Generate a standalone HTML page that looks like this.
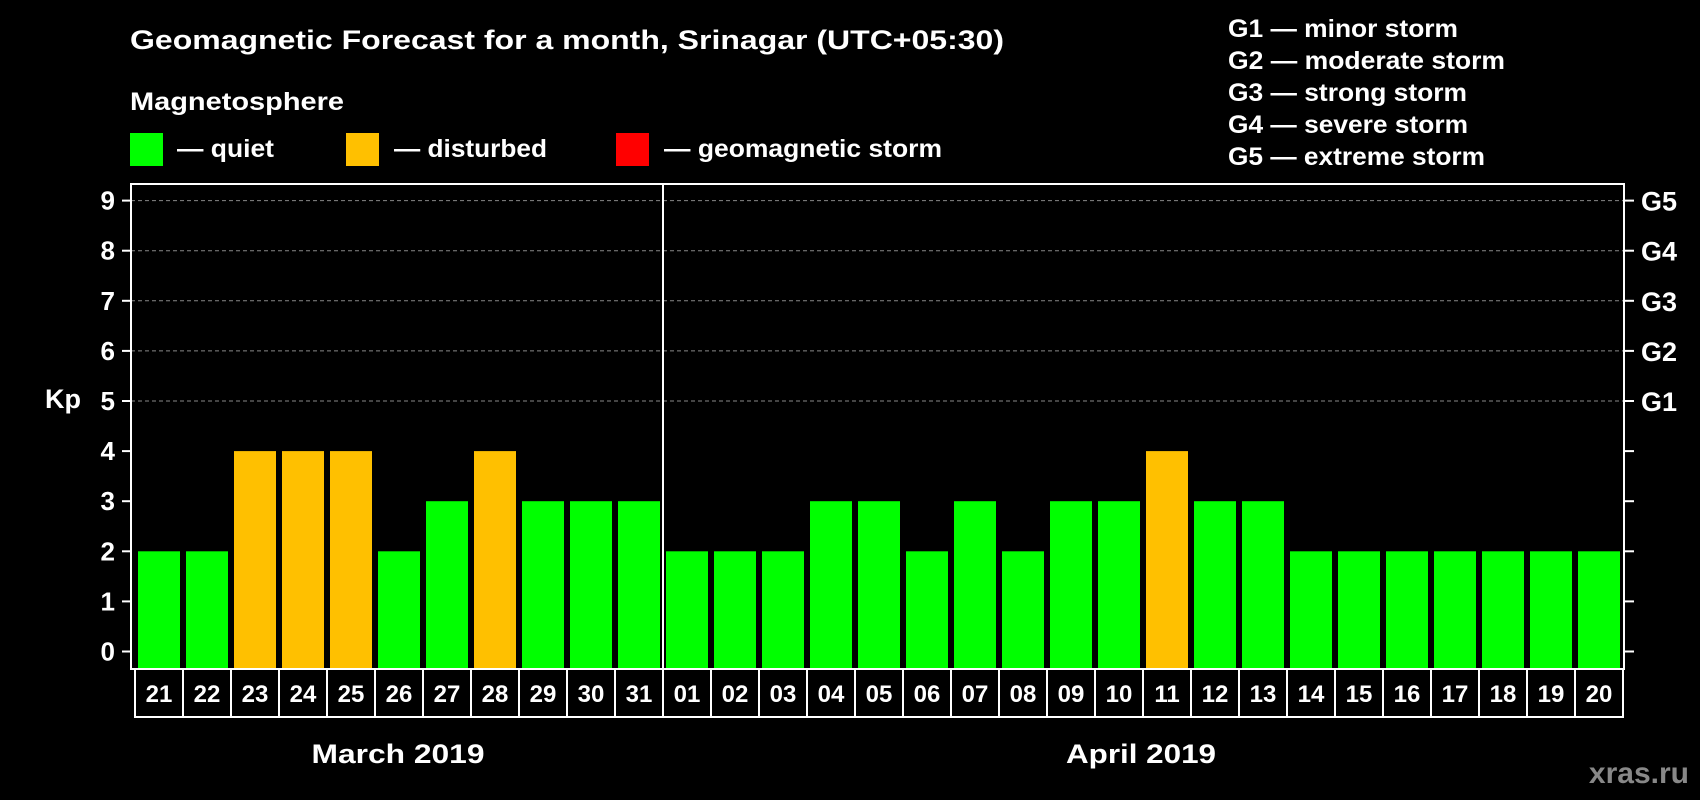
<!DOCTYPE html>
<html><head><meta charset="utf-8"><style>
html,body{margin:0;padding:0;background:#000;}
svg{display:block;font-family:"Liberation Sans",sans-serif;font-weight:bold;}
</style></head><body>
<svg id="chart" width="1700" height="800" viewBox="0 0 1700 800" xmlns="http://www.w3.org/2000/svg">
<rect x="0" y="0" width="1700" height="800" fill="#000"/>
<text x="130" y="49" fill="#fff" font-size="27" textLength="874" lengthAdjust="spacingAndGlyphs">Geomagnetic Forecast for a month, Srinagar (UTC+05:30)</text>
<text x="130" y="110" fill="#fff" font-size="25" textLength="214" lengthAdjust="spacingAndGlyphs">Magnetosphere</text>
<rect x="130" y="133" width="33" height="33" fill="#00ff00"/>
<text x="177" y="157" fill="#fff" font-size="25" textLength="97" lengthAdjust="spacingAndGlyphs">— quiet</text>
<rect x="346" y="133" width="33" height="33" fill="#ffc000"/>
<text x="394" y="157" fill="#fff" font-size="25" textLength="153" lengthAdjust="spacingAndGlyphs">— disturbed</text>
<rect x="616" y="133" width="33" height="33" fill="#ff0000"/>
<text x="664" y="157" fill="#fff" font-size="25" textLength="278" lengthAdjust="spacingAndGlyphs">— geomagnetic storm</text>
<g fill="#fff" font-size="25">
<text x="1228" y="37" textLength="230" lengthAdjust="spacingAndGlyphs">G1 — minor storm</text>
<text x="1228" y="69" textLength="277" lengthAdjust="spacingAndGlyphs">G2 — moderate storm</text>
<text x="1228" y="101" textLength="239" lengthAdjust="spacingAndGlyphs">G3 — strong storm</text>
<text x="1228" y="133" textLength="240" lengthAdjust="spacingAndGlyphs">G4 — severe storm</text>
<text x="1228" y="165" textLength="257" lengthAdjust="spacingAndGlyphs">G5 — extreme storm</text>
</g>
<text x="63" y="408" fill="#fff" font-size="27" text-anchor="middle">Kp</text>
<g id="plot"></g>
<text x="398" y="763" fill="#fff" font-size="27" text-anchor="middle" textLength="173" lengthAdjust="spacingAndGlyphs">March 2019</text>
<text x="1141" y="763" fill="#fff" font-size="27" text-anchor="middle" textLength="150" lengthAdjust="spacingAndGlyphs">April 2019</text>
<text x="1689" y="783" fill="#888" font-size="30" text-anchor="end">xras.ru</text>
</svg>
<script>
const days = ["21","22","23","24","25","26","27","28","29","30","31","01","02","03","04","05","06","07","08","09","10","11","12","13","14","15","16","17","18","19","20"];
const kpValues = [2,2,4,4,4,2,3,4,3,3,3,2,2,2,3,3,2,3,2,3,3,4,3,3,2,2,2,2,2,2,2];
const yTicks = [0,1,2,3,4,5,6,7,8,9];
const stormLabels = ["G1","G2","G3","G4","G5"];
const stormLevels = [5,6,7,8,9];
const monthSplitIndex = 11;

const NS = "http://www.w3.org/2000/svg";
const g = document.getElementById("plot");
const plotL = 131, plotR = 1624, plotT = 184, plotB = 669;
const slotL = 135, slotW = (1623 - 135) / days.length;
const y = v => 651.5 - 50.1 * v;
const x = i => slotL + i * slotW;
function mk(tag, attrs) { const e = document.createElementNS(NS, tag); for (const k in attrs) e.setAttribute(k, attrs[k]); g.appendChild(e); return e; }

stormLevels.forEach(v => {
  const l = mk("line", {x1: plotL, x2: plotR, y1: y(v), y2: y(v), stroke: "#888", "stroke-width": 1, "stroke-dasharray": "4,3"});
  
  
});
kpValues.forEach((v, i) => {
  const col = v >= 5 ? "#ff0000" : (v >= 4 ? "#ffc000" : "#00ff00");
  const r = mk("rect", {x: x(i) + 3, y: y(v), width: slotW - 6, height: plotB - y(v), fill: col});
  
  
});
const frame = mk("rect", {x: plotL, y: plotT, width: plotR - plotL, height: plotB - plotT, fill: "none", stroke: "#fff", "stroke-width": 2});


const div = mk("line", {x1: x(monthSplitIndex), x2: x(monthSplitIndex), y1: plotT, y2: plotB, stroke: "#fff", "stroke-width": 2});


yTicks.forEach(v => {
  const t1 = mk("line", {x1: 122, x2: plotL, y1: y(v), y2: y(v), stroke: "#fff", "stroke-width": 2});
  
  
  const t2 = mk("line", {x1: plotR, x2: 1634, y1: y(v), y2: y(v), stroke: "#fff", "stroke-width": 2});
  
  
  const tx = mk("text", {x: 115, y: y(v) + 9, fill: "#fff", "font-size": 26, "text-anchor": "end"});
  tx.textContent = v;
  
  
});
stormLabels.forEach((s, i) => {
  const tx = mk("text", {x: 1641, y: y(stormLevels[i]) + 10, fill: "#fff", "font-size": 27});
  tx.textContent = s;
  
  
});
days.forEach((d, i) => {
  const b = mk("rect", {x: x(i), y: plotB, width: slotW, height: 48, fill: "none", stroke: "#fff", "stroke-width": 2});
  
  
  const tx = mk("text", {x: x(i) + slotW / 2, y: plotB + 33, fill: "#fff", "font-size": 24, "text-anchor": "middle"});
  tx.textContent = d;
  
  
});
</script>
</body></html>
